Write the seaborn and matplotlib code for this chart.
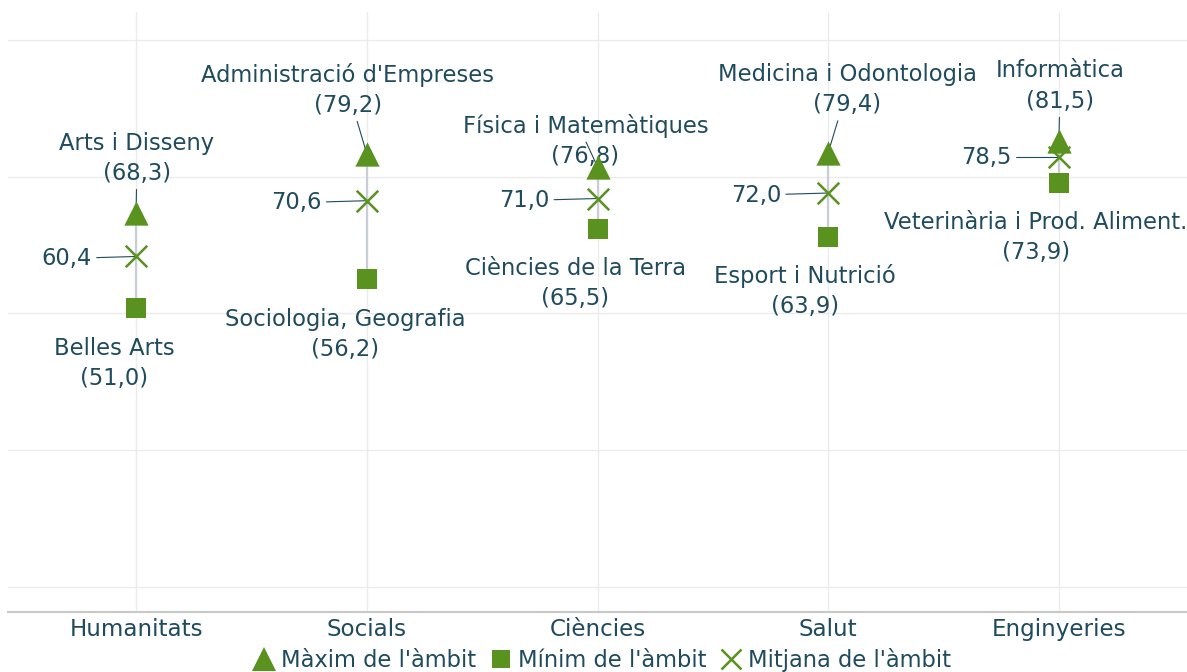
import matplotlib
matplotlib.use("Agg")
import matplotlib.pyplot as plt
from matplotlib.lines import Line2D
import numpy as np
import pandas as pd
import seaborn as sns

# Field groups and the summary score of each one
ambits = ["Humanitats", "Socials", "Ciències", "Salut", "Enginyeries"]
maxim = [68.3, 79.2, 76.8, 79.4, 81.5]
minim = [51.0, 56.2, 65.5, 63.9, 73.9]
mitjana = [60.4, 70.6, 71.0, 72.0, 78.5]
nom_maxim = ["Arts i Disseny", "Administració d'Empreses", "Física i Matemàtiques",
             "Medicina i Odontologia", "Informàtica"]
nom_minim = ["Belles Arts", "Sociologia, Geografia", "Ciències de la Terra",
             "Esport i Nutrició", "Veterinària i Prod. Aliment."]
llegenda = ["Màxim de l'àmbit", "Mínim de l'àmbit", "Mitjana de l'àmbit"]

VERD = "#5a9220"
TEXT = "#1f4b5d"
FONT = "DejaVu Sans"

sns.set_theme(style="whitegrid")
plt.rcParams["font.family"] = [FONT]

df = pd.DataFrame({"ambit": ambits, "maxim": maxim, "minim": minim, "mitjana": mitjana})
df["pos"] = np.arange(len(ambits))

fig = plt.figure(figsize=(11.87, 6.72), dpi=100)
ax = fig.add_axes([8 / 1187, 60 / 672, 1 - 8 / 1187, 600 / 672])

# range line between the minimum and the maximum of each field
ax.vlines(df["pos"], df["minim"], df["maxim"], color="#c9cdd6", lw=1.6, zorder=2)

sns.scatterplot(data=df, x="pos", y="maxim", marker="^", s=17.5 ** 2, color=VERD,
                linewidth=0, ax=ax, zorder=4)
sns.scatterplot(data=df, x="pos", y="minim", marker="s", s=13.7 ** 2, color=VERD,
                linewidth=0, ax=ax, zorder=4)
sns.scatterplot(data=df, x="pos", y="mitjana", marker="x", s=15.5 ** 2, color=VERD,
                linewidth=1.8, ax=ax, zorder=4)

ax.set_xlim(-0.555, 4.555)
ax.set_ylim(-4.6, 105.1)
ax.set_yticks([0, 25, 50, 75, 100])
ax.set_yticklabels([])
ax.set_xticks(range(len(ambits)))
ax.set_xticklabels(ambits, fontsize=16.6, color=TEXT)
ax.tick_params(axis="x", pad=4, length=0)
ax.tick_params(axis="y", length=0)
ax.set_xlabel("")
ax.set_ylabel("")
ax.grid(True, color="#ebebeb", lw=1)
for side in ["left", "right", "top"]:
    ax.spines[side].set_visible(False)
ax.spines["bottom"].set_color("#c8c8c8")
ax.spines["bottom"].set_linewidth(1.5)

FS = 16.3
leader = dict(arrowstyle="-", color=TEXT, lw=0.8, shrinkA=1, shrinkB=0)

off_max = [(1, 55), (-19, 64), (-12, 26), (19, 63), (1, 55)]
off_min = [(-22, -56), (-22, -55), (-22, -55), (-23, -54), (-23, -55)]
off_mit = [(-44, -2), (-45, -2), (-48, -2), (-47, -2), (-47, 0)]

def fmt(v):
    return f"{v:.1f}".replace(".", ",")

for i in range(len(ambits)):
    ax.annotate(f"{nom_maxim[i]}\n({fmt(maxim[i])})", xy=(i, maxim[i]),
                xytext=off_max[i], textcoords="offset pixels", ha="center", va="center",
                fontsize=FS, color=TEXT, linespacing=1.4, arrowprops=leader, zorder=3)
    ax.annotate(f"{nom_minim[i]}\n({fmt(minim[i])})", xy=(i, minim[i]),
                xytext=off_min[i], textcoords="offset pixels", ha="center", va="center",
                fontsize=FS, color=TEXT, linespacing=1.4, zorder=3)
    ax.annotate(fmt(mitjana[i]), xy=(i, mitjana[i]),
                xytext=off_mit[i], textcoords="offset pixels", ha="right", va="center",
                fontsize=FS, color=TEXT, arrowprops=leader, zorder=3)

handles = [
    Line2D([], [], marker="^", color=VERD, ls="", markersize=17, markeredgewidth=0),
    Line2D([], [], marker="s", color=VERD, ls="", markersize=13, markeredgewidth=0),
    Line2D([], [], marker="x", color=VERD, ls="", markersize=14, markeredgewidth=1.8),
]
leg = fig.legend(handles, llegenda, loc="center", bbox_to_anchor=(601 / 1187, 1 - 660 / 672),
                 ncol=3, frameon=False, fontsize=16.3, handletextpad=0.15,
                 columnspacing=0.5, handlelength=1.2, borderaxespad=0, borderpad=0)
for t in leg.get_texts():
    t.set_color(TEXT)

fig.savefig("out.png", dpi=100)
